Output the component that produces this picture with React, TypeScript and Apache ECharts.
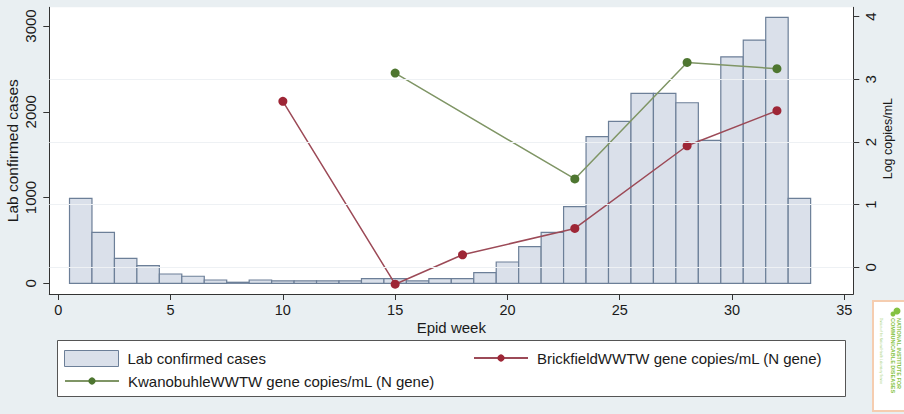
import React, { useEffect, useRef } from "react";
import * as echarts from "echarts";

// ---- data ----
const weeks = [1, 2, 3, 4, 5, 6, 7, 8, 9, 10, 11, 12, 13, 14, 15, 16, 17, 18, 19, 20, 21, 22, 23, 24, 25, 26, 27, 28, 29, 30, 31, 32, 33];
const cases = [990, 594, 291, 205, 108, 82, 38, 12, 38, 27, 27, 27, 27, 54, 54, 27, 54, 54, 124, 248, 427, 594, 893, 1709, 1888, 2214, 2214, 2105, 1667, 2641, 2836, 3100, 990];
const brickWeeks = [10, 15, 18, 23, 28, 32];
const brickLog = [2.65, -0.27, 0.2, 0.62, 1.94, 2.5];
const kwanoWeeks = [15, 23, 28, 32];
const kwanoLog = [3.1, 1.41, 3.27, 3.17];
const xTicks = [0, 5, 10, 15, 20, 25, 30, 35];
const leftTicks = [0, 1000, 2000, 3000];
const rightTicks = [0, 1, 2, 3, 4];
const gridValues = [0, 1, 2, 3];

const CASES = "Lab confirmed cases";
const BRICK = "BrickfieldWWTW gene copies/mL (N gene)";
const KWANO = "KwanobuhleWWTW gene copies/mL (N gene)";

const FONT = "Liberation Sans";
const TXT = "#1a1a1a";
const AX = "#333333";
const BAR_FILL = "#dae0ea";
const BAR_EDGE = "#6c7f98";
const RED = "#9e2636";
const RED_LINE = "#9c4a57";
const GREEN = "#4e7630";
const GREEN_LINE = "#7f9565";
const LOGO_GREEN = "#84c241";

const legendText = { fontSize: 15, color: TXT, fontFamily: FONT, padding: [0, 0, 0, 4] };

export default function App() {
  const ref = useRef<HTMLDivElement>(null);
  useEffect(() => {
    if (!ref.current) return;
    const chart = echarts.init(ref.current, undefined, { renderer: "svg" });
    const option: any = {
      animation: false,
      backgroundColor: "#e9eff2",
      textStyle: { fontFamily: FONT },
      grid: {
        left: 49.3,
        right: 50.7,
        top: 7.3,
        bottom: 120,
        show: true,
        backgroundColor: "#ffffff",
        borderWidth: 0,
        containLabel: false,
        outerBoundsMode: "none",
      },
      xAxis: {
        type: "value",
        min: -0.4,
        max: 35.4,
        name: "Epid week",
        nameLocation: "middle",
        nameGap: 25.5,
        nameMoveOverlap: false,
        nameTextStyle: { fontSize: 15, color: TXT, fontFamily: FONT },
        axisLine: { show: true, onZero: false, lineStyle: { color: AX, width: 1 } },
        axisTick: { show: true, length: 6, customValues: xTicks, lineStyle: { color: AX } },
        axisLabel: { customValues: xTicks, margin: 8, fontSize: 14.5, color: TXT, fontFamily: FONT },
        splitLine: { show: false },
      },
      yAxis: [
        {
          type: "value",
          position: "left",
          min: -125,
          max: 3218,
          name: CASES,
          nameLocation: "middle",
          nameGap: 29,
          nameMoveOverlap: false,
          nameTextStyle: { fontSize: 15.5, color: TXT, fontFamily: FONT },
          axisLine: { show: true, onZero: false, lineStyle: { color: AX, width: 1 } },
          axisTick: { show: true, length: 6, customValues: leftTicks, lineStyle: { color: AX } },
          axisLabel: {
            customValues: leftTicks,
            rotate: 90,
            margin: 11,
            fontSize: 15,
            color: TXT,
            fontFamily: FONT,
            formatter: (v: number) => String(v),
          },
          splitLine: { show: false },
        },
        {
          type: "value",
          position: "right",
          min: -0.426,
          max: 4.15,
          name: "Log copies/mL",
          nameLocation: "middle",
          nameGap: 28,
          nameMoveOverlap: false,
          nameTextStyle: { fontSize: 12.5, color: TXT, fontFamily: FONT, padding: [0, 0, 0, 24] },
          axisLine: { show: true, onZero: false, lineStyle: { color: AX, width: 1 } },
          axisTick: { show: true, length: 6, customValues: rightTicks, lineStyle: { color: AX } },
          axisLabel: { customValues: rightTicks, rotate: 90, margin: 10, fontSize: 15, color: TXT, fontFamily: FONT },
          splitLine: { show: false },
        },
      ],
      legend: [
        {
          left: 64,
          top: 350,
          padding: 0,
          itemWidth: 54,
          itemHeight: 16,
          textStyle: legendText,
          data: [{ name: CASES, icon: "rect", itemStyle: { color: BAR_FILL, borderColor: BAR_EDGE, borderWidth: 1 } }],
        },
        {
          left: 64,
          top: 373.5,
          padding: 0,
          itemWidth: 54,
          itemHeight: 9,
          textStyle: legendText,
          data: [{ name: KWANO }],
        },
        {
          left: 473,
          top: 350.5,
          padding: 0,
          itemWidth: 54,
          itemHeight: 9,
          textStyle: legendText,
          data: [{ name: BRICK }],
        },
      ],
      graphic: [
        {
          type: "rect",
          z: -1,
          shape: { x: 57.5, y: 340.5, width: 788, height: 56 },
          style: { fill: "#ffffff", stroke: "#555555", lineWidth: 1 },
        },
        {
          type: "rect",
          shape: { x: 873, y: 301, width: 40, height: 110 },
          style: { fill: "#ffffff", stroke: "#f5cdb0", lineWidth: 2 },
        },
        {
          type: "circle",
          shape: { cx: 897, cy: 311, r: 3.5 },
          style: { fill: LOGO_GREEN },
        },
        {
          type: "circle",
          shape: { cx: 893, cy: 314, r: 2.5 },
          style: { fill: LOGO_GREEN },
        },
        {
          type: "text",
          x: 899,
          y: 318,
          rotation: -Math.PI / 2,
          style: { text: "NATIONAL INSTITUTE FOR", fill: LOGO_GREEN, font: "bold 5.5px Liberation Sans", align: "left", verticalAlign: "middle" },
        },
        {
          type: "text",
          x: 893,
          y: 318,
          rotation: -Math.PI / 2,
          style: { text: "COMMUNICABLE DISEASES", fill: LOGO_GREEN, font: "bold 5.5px Liberation Sans", align: "left", verticalAlign: "middle" },
        },
        {
          type: "text",
          x: 881,
          y: 318,
          rotation: -Math.PI / 2,
          style: { text: "Division of the National Health Laboratory Service", fill: "#a8d27a", font: "3px Liberation Sans", align: "left", verticalAlign: "middle" },
        },
      ],
      series: [
        {
          type: "line",
          name: "grid",
          xAxisIndex: 0,
          yAxisIndex: 1,
          data: [],
          z: 1,
          silent: true,
          markLine: {
            silent: true,
            symbol: "none",
            label: { show: false },
            lineStyle: { color: "#eef1f4", width: 1, type: "solid" },
            data: gridValues.map((v) => ({ yAxis: v })),
          },
        },
        {
          type: "custom",
          name: CASES,
          xAxisIndex: 0,
          yAxisIndex: 0,
          z: 2,
          data: weeks.map((w, i) => [w, cases[i]]),
          encode: { x: 0, y: 1 },
          itemStyle: { color: BAR_FILL, borderColor: BAR_EDGE, borderWidth: 1 },
          renderItem: (params: any, api: any) => {
            const w = api.value(0);
            const v = api.value(1);
            const p0 = api.coord([w - 0.5, v]);
            const p1 = api.coord([w + 0.5, 0]);
            return {
              type: "rect",
              shape: { x: p0[0], y: p0[1], width: p1[0] - p0[0], height: p1[1] - p0[1] },
              style: { fill: BAR_FILL, stroke: BAR_EDGE, lineWidth: 1.2 },
            };
          },
        },
        {
          type: "line",
          name: BRICK,
          xAxisIndex: 0,
          yAxisIndex: 1,
          z: 4,
          data: brickWeeks.map((w, i) => [w, brickLog[i]]),
          symbol: "circle",
          symbolSize: 9,
          lineStyle: { color: RED_LINE, width: 1.5 },
          itemStyle: { color: RED },
        },
        {
          type: "line",
          name: KWANO,
          xAxisIndex: 0,
          yAxisIndex: 1,
          z: 4,
          data: kwanoWeeks.map((w, i) => [w, kwanoLog[i]]),
          symbol: "circle",
          symbolSize: 9,
          lineStyle: { color: GREEN_LINE, width: 1.5 },
          itemStyle: { color: GREEN },
        },
      ],
    };
    chart.setOption(option);
    return () => chart.dispose();
  }, []);
  return (
    <div
      ref={ref}
      style={{ position: "absolute", left: 0, top: 0, width: 904, height: 414 }}
    />
  );
}
